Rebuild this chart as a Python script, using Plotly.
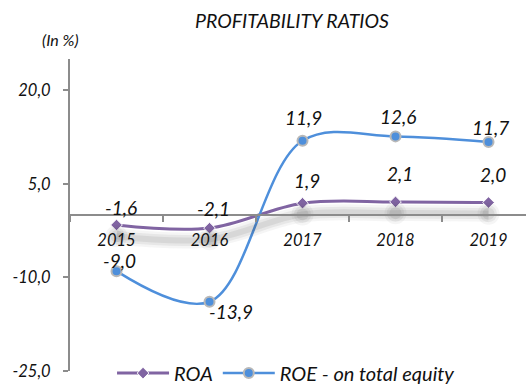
import plotly.graph_objects as go

# Profitability ratios, in percent
years = ["2015", "2016", "2017", "2018", "2019"]
roa = [-1.6, -2.1, 1.9, 2.1, 2.0]
roe = [-9.0, -13.9, 11.9, 12.6, 11.7]

y_ticks = [-25, -10, 5, 20]

# label placement (pixel offsets from each point)
roa_label_dy = [17, 20, 23, 28, 28]
roe_label_dx = [3, 21, 1, 2, 2]
roe_label_dy = [11, -10, 23, 20, 14]

FONT = "Lato"
ROA_COLOR = "#8064A2"
ROE_COLOR = "#4E8FDB"
AXIS_COLOR = "#8C8C8C"
TEXT_COLOR = "#111111"

Y_MIN, Y_MAX = -25, 25
SHADOW_SHIFT = 1.8  # shadow drop, in axis units


def fmt(v):
    return f"{v:.1f}".replace(".", ",")


fig = go.Figure()

# soft drop shadow under the ROA line (drawn on a shifted overlay axis)
for w, op in [(16, 0.05), (11, 0.07), (6, 0.09)]:
    fig.add_trace(go.Scatter(
        x=years, y=roa, mode="lines+markers", yaxis="y2",
        line=dict(color=f"rgba(60,60,60,{op})", width=w, shape="spline", smoothing=1),
        marker=dict(size=w + 6, color=f"rgba(60,60,60,{op})"),
        hoverinfo="skip", showlegend=False,
    ))

fig.add_trace(go.Scatter(
    x=years, y=roa, name="ROA", mode="lines+markers",
    line=dict(color=ROA_COLOR, width=3, shape="spline", smoothing=1),
    marker=dict(symbol="diamond", size=9, color=ROA_COLOR,
                line=dict(color="white", width=1)),
))
fig.add_trace(go.Scatter(
    x=years, y=roe, name="ROE - on total equity", mode="lines+markers",
    line=dict(color=ROE_COLOR, width=2.5, shape="spline", smoothing=1),
    marker=dict(symbol="circle", size=10, color=ROE_COLOR,
                line=dict(color="#B8B8B8", width=2)),
))

# value labels (category axes take the category index as position)
annotations = []
label_font = dict(family=FONT, size=19, color=TEXT_COLOR, style="italic")
for i, v in enumerate(roa):
    annotations.append(dict(x=i, y=v, text=fmt(v), showarrow=False,
                            xshift=4, yshift=roa_label_dy[i], font=label_font))
for i, v in enumerate(roe):
    annotations.append(dict(x=i, y=v, text=fmt(v), showarrow=False,
                            xshift=roe_label_dx[i], yshift=roe_label_dy[i],
                            font=label_font))

annotations.append(dict(text="(In %)", xref="paper", yref="paper",
                        x=-0.02, y=1.061, xanchor="center", yanchor="middle",
                        showarrow=False,
                        font=dict(family=FONT, size=16, color=TEXT_COLOR, style="italic")))

fig.update_layout(
    width=526, height=385,
    margin=dict(l=70, r=0, t=59, b=14, autoexpand=False),
    paper_bgcolor="white", plot_bgcolor="white",
    separators=", ",
    title=dict(text="PROFITABILITY RATIOS", xref="container", yref="container",
               x=0.555, y=0.946, xanchor="center", yanchor="middle",
               font=dict(family=FONT, size=19.5, color=TEXT_COLOR, style="italic")),
    xaxis=dict(type="category", categoryorder="array", categoryarray=years,
               range=[-0.5, 4.403], anchor="free", position=0.5,
               showline=True, linecolor=AXIS_COLOR, linewidth=1.5,
               ticks="outside", tickson="boundaries", ticklen=6,
               tickcolor=AXIS_COLOR, tickwidth=1.5, ticklabelstandoff=10,
               showgrid=False, zeroline=False,
               tickfont=dict(family=FONT, size=16.5, color=TEXT_COLOR, style="italic")),
    yaxis=dict(range=[Y_MIN, Y_MAX], tickvals=y_ticks,
               ticktext=[fmt(t) for t in y_ticks],
               showline=True, linecolor=AXIS_COLOR, linewidth=2,
               ticks="outside", ticklen=5, tickcolor=AXIS_COLOR, tickwidth=1.5,
               ticklabelstandoff=9,
               showgrid=False, zeroline=False,
               tickfont=dict(family=FONT, size=16.5, color=TEXT_COLOR, style="italic")),
    yaxis2=dict(range=[Y_MIN + SHADOW_SHIFT, Y_MAX + SHADOW_SHIFT], overlaying="y",
                visible=False),
    legend=dict(orientation="h", xref="container", yref="container",
                x=0.213, y=0.031, xanchor="left", yanchor="middle",
                itemwidth=52, bgcolor="rgba(0,0,0,0)",
                font=dict(family=FONT, size=20, color=TEXT_COLOR, style="italic")),
    annotations=annotations,
    showlegend=True,
)

fig.write_html("out.html")
